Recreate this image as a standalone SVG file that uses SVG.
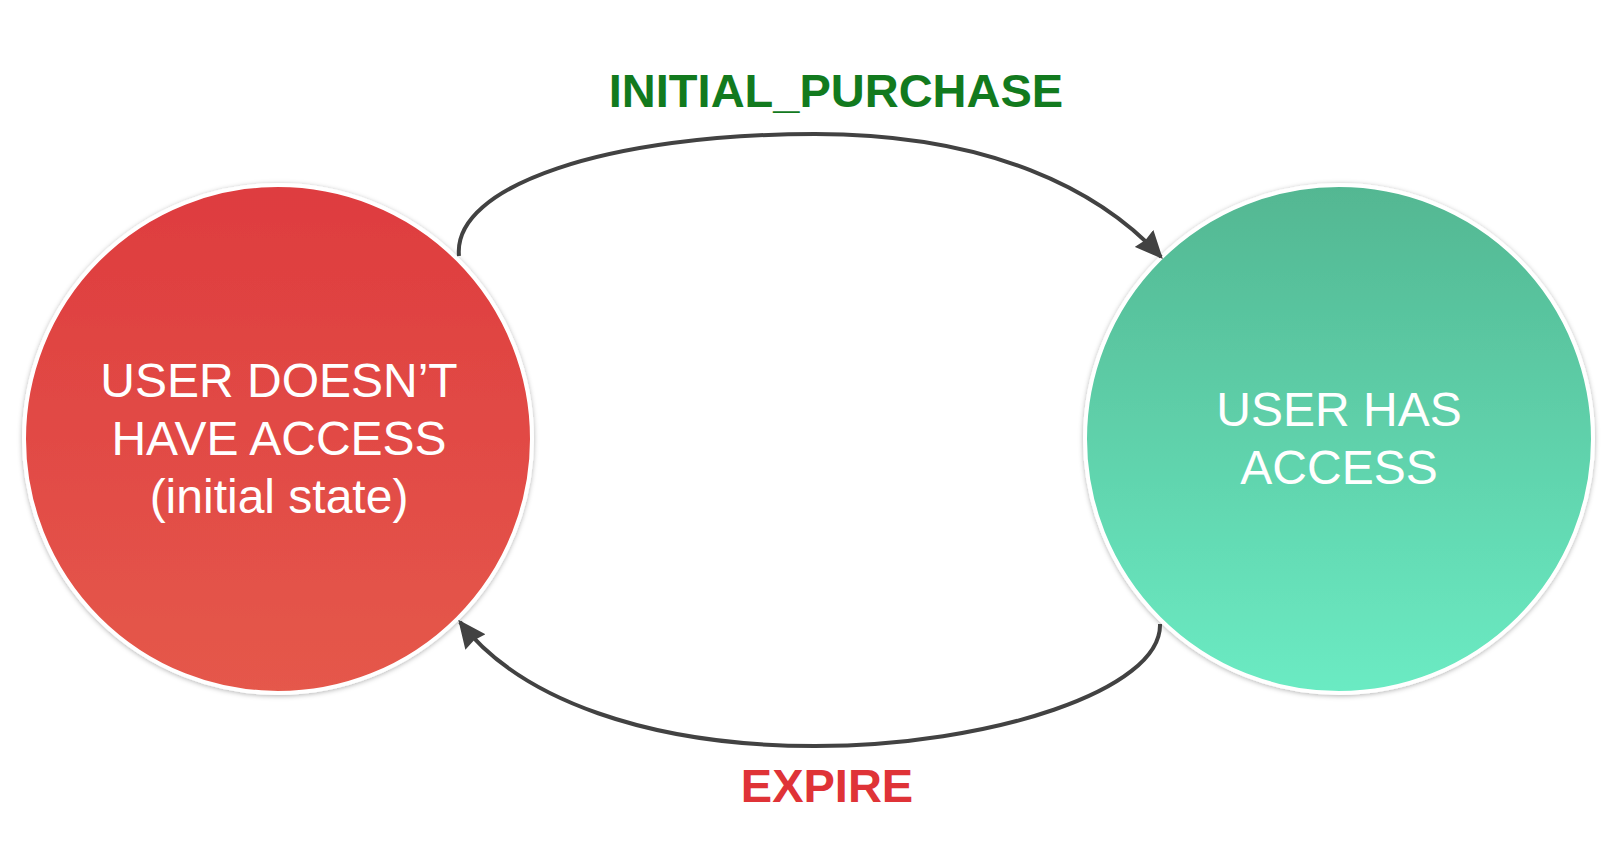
<svg xmlns="http://www.w3.org/2000/svg" width="1618" height="846" viewBox="0 0 1618 846">
  <defs>
    <linearGradient id="gradRed" x1="0" y1="0" x2="0" y2="1">
      <stop offset="0" stop-color="#DE3C3F"/>
      <stop offset="1" stop-color="#E5584B"/>
    </linearGradient>
    <linearGradient id="gradGreen" x1="0" y1="0" x2="0" y2="1">
      <stop offset="0" stop-color="#53B792"/>
      <stop offset="1" stop-color="#6BEBC3"/>
    </linearGradient>
    <filter id="softShadow" x="-10%" y="-10%" width="120%" height="120%">
      <feDropShadow dx="0" dy="1" stdDeviation="2.5" flood-color="#000" flood-opacity="0.3"/>
    </filter>
    <marker id="arrowHead" viewBox="0 0 10 9" refX="9" refY="4.5" markerWidth="7" markerHeight="6.3" markerUnits="strokeWidth" orient="auto">
      <path d="M0,0 L10,4.5 L0,9 L0.8,4.5 Z" fill="#424242"/>
    </marker>
    <style>
      .state { stroke: #FFFFFF; stroke-width: 4; filter: url(#softShadow); }
      .stateText { font-family: "Liberation Sans", Arial, sans-serif; font-size: 48px; fill: #FFFFFF; text-anchor: middle; }
      .edge { fill: none; stroke: #424242; stroke-width: 4; marker-end: url(#arrowHead); }
      .edgeLabel { font-family: "Liberation Sans", Arial, sans-serif; font-size: 47px; font-weight: bold; text-anchor: middle; }
    </style>
  </defs>

  <rect width="1618" height="846" fill="#FFFFFF"/>

  <g id="node-no-access">
    <circle class="state" cx="278" cy="439" r="254" fill="url(#gradRed)"/>
    <text class="stateText" x="279" y="397">USER DOESN’T</text>
    <text class="stateText" x="279" y="455">HAVE ACCESS</text>
    <text class="stateText" x="279" y="513">(initial state)</text>
  </g>

  <g id="node-has-access">
    <circle class="state" cx="1339" cy="439" r="254" fill="url(#gradGreen)"/>
    <text class="stateText" x="1339" y="426">USER HAS</text>
    <text class="stateText" x="1339" y="484">ACCESS</text>
  </g>

  <g id="connectors">
    <path id="edge-initial-purchase" class="edge" d="M459,256 C452,185 610,134 815,134 C990,134 1100,190 1161,257"/>
    <path id="edge-expire" class="edge" d="M1160,624 C1162,690 990,746 815,746 C650,746 520,700 460,622"/>
  </g>

  <g id="labels">
    <text class="edgeLabel" x="836" y="107" fill="#127A1E">INITIAL_PURCHASE</text>
    <text class="edgeLabel" x="827" y="802" fill="#DF3337">EXPIRE</text>
  </g>
</svg>
